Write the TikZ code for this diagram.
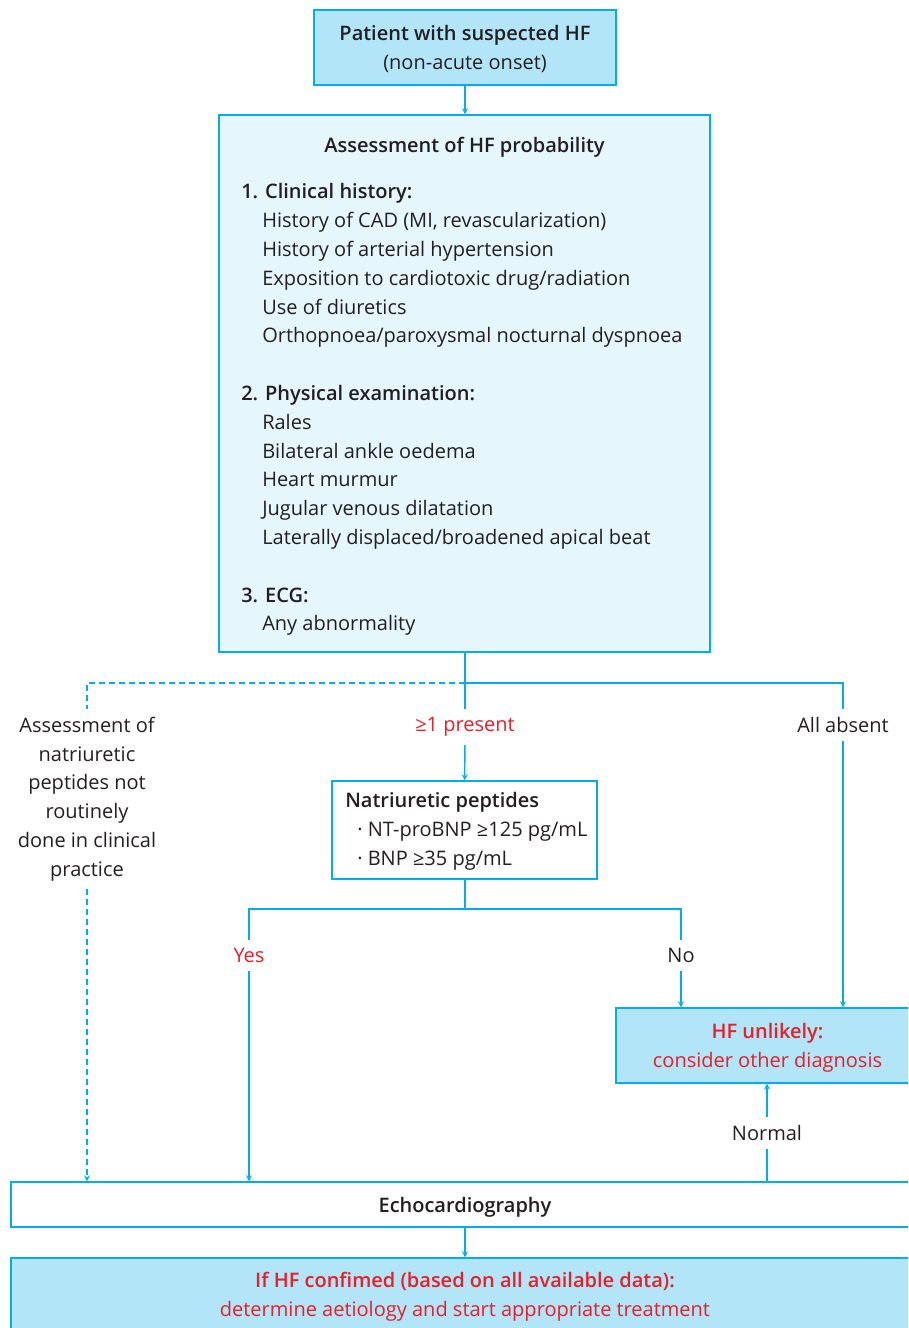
\documentclass[tikz,border=0pt]{standalone}
\usepackage{fontspec}
\setmainfont{Open Sans}[BoldFont={Open Sans Semibold}]

\definecolor{hfline}{RGB}{0,174,239}
\definecolor{hffill}{RGB}{179,229,249}
\definecolor{hfpale}{RGB}{229,246,253}
\definecolor{hfred}{RGB}{232,30,40}
\definecolor{hftext}{RGB}{35,31,32}

\tikzset{
  box/.style={draw=hfline, line width=1pt, text=hftext, align=center, inner sep=0pt, text depth=0pt},
  lbl/.style={text=hftext, align=center, inner xsep=2pt, inner ysep=6pt},
  link/.style={draw=hfline, line width=1pt},
  notdash/.style={dash pattern=on 4.5pt off 3pt},
}

\begin{document}
\begin{tikzpicture}[x=0.75pt, y=-0.75pt, >=stealth,
    font=\fontsize{15}{21.6}\selectfont]
    \clip (0,0) rectangle (908,1328);

    % boxes
    \node[box, fill=hffill, minimum width=226.5pt, minimum height=56.25pt]
        (patient) at (465,47.5) {\textbf{Patient with suspected HF}\\(non-acute onset)};
    \node[box, fill=hfpale, minimum width=368.25pt, minimum height=402.75pt]
        (assess) at (464.5,383.5) {};
    \node[text=hftext, anchor=north] (asstitle) at (464.5,132) {\textbf{Assessment of HF probability}};
    \node[text=hftext, align=left, anchor=north west, inner sep=0pt] (asslist) at (241,183.5) {%
        \textbf{1. Clinical history:}\\
        \hspace*{15.75pt}History of CAD (MI, revascularization)\\
        \hspace*{15.75pt}History of arterial hypertension\\
        \hspace*{15.75pt}Exposition to cardiotoxic drug/radiation\\
        \hspace*{15.75pt}Use of diuretics\\
        \hspace*{15.75pt}Orthopnoea/paroxysmal nocturnal dyspnoea\\[21.6pt]
        \textbf{2. Physical examination:}\\
        \hspace*{15.75pt}Rales\\
        \hspace*{15.75pt}Bilateral ankle oedema\\
        \hspace*{15.75pt}Heart murmur\\
        \hspace*{15.75pt}Jugular venous dilatation\\
        \hspace*{15.75pt}Laterally displaced/broadened apical beat\\[21.6pt]
        \textbf{3. ECG:}\\
        \hspace*{15.75pt}Any abnormality};

    \node[box, fill=white, minimum width=198.75pt, minimum height=73.5pt]
        (natri) at (464.5,830) {};
    \node[text=hftext, align=left, anchor=north west, inner sep=0pt] (natritext) at (345,792.5) {%
        \textbf{Natriuretic peptides}\\
        \hspace*{9pt}· NT-proBNP ≥125 pg/mL\\
        \hspace*{9pt}· BNP ≥35 pg/mL};

    \node[box, fill=hffill, text=hfred, minimum width=227.25pt, minimum height=56.25pt]
        (unlikely) at (767.5,1045.5) {\textbf{HF unlikely:}\\consider other diagnosis};
    \node[box, fill=white, minimum width=681pt, minimum height=33.75pt]
        (echo) at (465,1204.5) {\textbf{Echocardiography}};
    \node[box, fill=hffill, text=hfred, minimum width=681pt, minimum height=54pt]
        (confirmed) at (465,1294) {\textbf{If HF confimed (based on all available data):}\\determine aetiology and start appropriate treatment};

    % labels
    \node[lbl, text=hfred] (present) at (465,727) {≥1 present};
    \node[lbl] (absent) at (843,725) {All absent};
    \node[lbl] (notdone) at (87,799) {Assessment of\\natriuretic\\peptides not\\routinely\\done in clinical\\practice};
    \node[lbl, text=hfred] (yes) at (249,955) {Yes};
    \node[lbl] (no) at (681,955) {No};
    \node[lbl] (normal) at (767,1133) {Normal};

    \coordinate (split) at (465,683);
    \coordinate (natsplit) at (465,909);

    % connectors
    \draw[link, ->] (patient) -- (patient.south |- assess.north);
    \draw[link] (assess.south -| split) -- (split);
    \draw[link, notdash] (split) -| (notdone);
    \draw[link, notdash, ->] (notdone) -- (notdone |- echo.north);
    \draw[link] (split) -- (present);
    \draw[link, ->] (present) -- (natri);
    \draw[link] (split) -| (absent);
    \draw[link, ->] (absent) -- (absent |- unlikely.north);

    \draw[link] (natri.south -| natsplit) -- (natsplit);
    \draw[link] (natsplit) -| (yes);
    \draw[link] (natsplit) -| (no);
    \draw[link, ->] (yes) -- (yes |- echo.north);
    \draw[link, ->] (no) -- (no |- unlikely.north);

    \draw[link] (echo.north -| normal) -- (normal);
    \draw[link, ->] (normal) -- (normal |- unlikely.south);
    \draw[link, ->] (echo) -- (confirmed);
\end{tikzpicture}
\end{document}
